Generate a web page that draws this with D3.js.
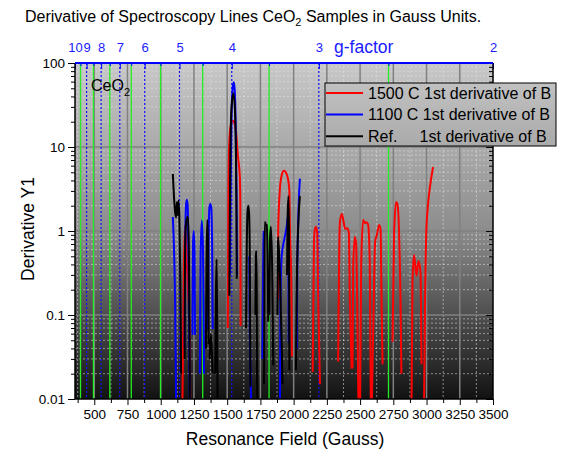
<!DOCTYPE html>
<html><head><meta charset="utf-8">
<script src="https://cdn.jsdelivr.net/npm/d3@7"></script>
<style>
body{margin:0;background:#fff;}
text{font-family:Arial,"Liberation Sans",sans-serif;}
</style></head>
<body><svg id="c" width="570" height="454"></svg>
<script>
// ---------- data ----------
const fieldTicks = [500,750,1000,1250,1500,1750,2000,2250,2500,2750,3000,3250,3500];
const fieldMinor = [375,625,875,1125,1375,1625,1875,2125,2375,2625,2875,3125,3375];
const gTicks = [10,9,8,7,6,5,4,3,2];
const gHalf = [9.5,8.5,7.5,6.5,5.5,4.5,3.5,2.5];
const gLines = [9,8,7,6,5,4,3];
const yTicks = [0.01,0.1,1,10,100];
const yLabels = ["0.01","0.1","1","10","100"];
const legendNames = ["1500 C 1st derivative of B","1100 C 1st derivative of B","Ref."];

// [field (G), |dY/dB|]; null separates segments
const red1500 = [
 [1163,0.008],[1168,0.05],[1176,0.5],[1183,1.16],[1192,0.6],[1205,0.2],[1216,0.08],[1223,0.008],null,
 [1505,0.07],[1507,0.6],[1510,4],[1518,13],[1530,19],[1542,20.6],[1555,19],[1567,15],[1580,8],[1595,4.5],[1599,2],[1600,0.5],[1601,0.074],null,
 [1882,0.155],[1884,1.06],[1897,3.2],[1910,4.6],[1927,5.22],[1947,4.8],[1967,3.2],[1972,1.06],[1983,0.2],[1987,0.032],null,
 [2143,0.021],[2153,0.74],[2160,1.05],[2168,1.12],[2177,0.97],[2185,0.155],[2198,0.015],null,
 [2335,0.028],[2348,1.28],[2363,1.59],[2376,1.28],[2388,1.06],[2403,1.08],[2415,0.97],[2423,0.155],[2436,0.023],null,
 [2443,0.023],[2448,0.39],[2461,0.85],[2470,0.7],[2478,0.155],[2488,0.008],null,
 [2500,0.008],[2508,0.39],[2523,1.35],[2538,1.24],[2548,1.27],[2560,1.2],[2573,0.39],[2581,0.008],null,
 [2588,0.008],[2603,0.155],[2613,0.74],[2628,0.92],[2643,1.18],[2654,1.06],[2661,0.155],[2669,0.026],null,
 [2744,0.048],[2756,0.97],[2771,2.21],[2781,2.1],[2793,0.97],[2804,0.155],[2811,0.02],null,
 [2887,0.008],[2894,0.247],[2906,0.518],[2924,0.294],[2939,0.44],[2954,0.33],[2962,0.026],null,
 [2981,0.008],[2989,0.155],[2999,1.06],[3009,1.9],[3024,3.2],[3049,5.78]
];
const blue1100 = [
 [1091,1.47],[1100,0.6],[1108,0.155],[1116,0.008],null,
 [1180,0.04],[1183,0.4],[1190,2.0],[1196,2.36],[1203,2.0],[1208,0.6],[1216,0.03],[1219,0.008],null,
 [1239,0.058],[1243,0.7],[1248,1.0],[1254,0.6],[1258,0.058],null,
 [1294,0.02],[1300,0.5],[1309,1.33],[1318,0.6],[1326,0.02],null,
 [1356,0.068],[1360,0.6],[1366,1.9],[1373,2.1],[1380,1.9],[1387,0.6],[1391,0.068],null,
 [1521,0.3],[1526,4],[1533,25],[1542,52],[1549,58.9],[1556,50],[1563,22],[1570,3],[1574,0.3],null,
 [1666,0.5],[1670,0.07],[1676,0.02],[1680,0.008],null,
 [1765,0.03],[1768,0.12],[1772,0.6],[1776,1.0],null,
 [1897,0.008],[1901,0.155],[1910,0.5],[1930,0.8],[1950,1.2],[1957,1.5],[1961,0.5],[1963,0.047],null,
 [2024,0.04],[2027,0.3],[2033,1.06],[2040,2.5],[2047,4.2]
];
const refLine = [
 [1091,4.77],[1100,2.5],[1110,1.6],[1116,1.45],[1121,2.2],[1128,1.55],[1133,2.3],[1140,1.5],[1147,0.3],[1153,0.02],null,
 [1180,0.03],[1183,0.6],[1190,1.2],[1200,1.45],[1206,1.47],[1212,0.5],[1220,0.008],null,
 [1340,0.04],[1345,0.5],[1351,1.35],[1356,0.7],[1360,0.045],null,
 [1368,0.03],[1378,0.06],[1390,0.02],null,
 [1410,0.02],[1415,0.15],[1420,0.46],[1424,0.1],[1428,0.008],null,
 [1516,0.17],[1519,1],[1524,8],[1532,28],[1546,43.6],[1558,28],[1566,8],[1570,1.5],[1572,0.27],null,
 [1642,0.07],[1648,0.8],[1653,1.7],[1659,2.0],[1665,1.6],[1670,0.5],[1675,0.014],null,
 [1712,0.1],[1716,0.5],[1719,0.58],[1722,0.2],[1726,0.008],null,
 [1777,0.015],[1781,0.5],[1784,1.28],[1790,1.2],[1797,1.18],[1803,0.6],[1809,0.083],null,
 [1817,0.1],[1822,0.8],[1829,1.12],[1838,0.4],[1847,0.025],null,
 [1878,0.1],[1882,0.7],[1884,0.85],[1900,0.2],[1917,0.015],null,
 [1950,0.3],[1955,1.5],[1961,2.6],[1965,1.0],[1968,0.022],null,
 [2017,0.022],[2025,0.3],[2035,1.2],[2047,2.6]
];

// ---------- layout ----------
const L=75, R=493, T=63, B=399;
const svg = d3.select("#c");
const x = d3.scaleLinear().domain([355,3500]).range([L,R]);
const gx = d3.scaleLinear().domain([1/10,1/2]).range([L,R]);
const y = d3.scaleLog().domain([0.01,100]).range([B,T]);

const defs = svg.append("defs");
const grad = defs.append("linearGradient").attr("id","bg").attr("gradientUnits","userSpaceOnUse")
  .attr("x1",0).attr("x2",0).attr("y1",T).attr("y2",B);
grad.append("stop").attr("offset",0).attr("stop-color","#c8c8c8");
grad.append("stop").attr("offset",0.5).attr("stop-color","#8c8c8c");
grad.append("stop").attr("offset",1).attr("stop-color","#121212");
defs.append("clipPath").attr("id","clip").append("rect").attr("x",L).attr("y",T).attr("width",R-L).attr("height",B-T);

svg.append("rect").attr("x",L).attr("y",T).attr("width",R-L).attr("height",B-T).attr("fill","url(#bg)");

const g = svg.append("g").attr("clip-path","url(#clip)");
const yMinor = [];
[0.01,0.1,1,10].forEach(d=>{for(let k=2;k<=9;k++) yMinor.push(d*k);});
g.selectAll(".hm").data(yMinor).join("line").attr("x1",L).attr("x2",R)
 .attr("y1",d=>y(d)).attr("y2",d=>y(d)).attr("stroke","#e4e4e4").attr("stroke-opacity",0.55).attr("stroke-dasharray","2,2");
g.selectAll(".vm").data(fieldMinor).join("line").attr("y1",T).attr("y2",B)
 .attr("x1",d=>x(d)).attr("x2",d=>x(d)).attr("stroke","#e4e4e4").attr("stroke-opacity",0.55).attr("stroke-dasharray","2,2");
g.selectAll(".hM").data([0.1,1,10]).join("line").attr("x1",L).attr("x2",R)
 .attr("y1",d=>y(d)).attr("y2",d=>y(d)).attr("stroke","#808080").attr("stroke-width",1.5);
g.selectAll(".vM").data(fieldTicks.slice(0,-1)).join("line").attr("y1",T).attr("y2",B)
 .attr("x1",d=>x(d)).attr("x2",d=>x(d)).attr("stroke","#808080").attr("stroke-width",1.5);
g.selectAll(".gh").data(gHalf).join("line").attr("y1",T).attr("y2",B)
 .attr("x1",d=>gx(1/d)).attr("x2",d=>gx(1/d)).attr("stroke","#22ee22").attr("stroke-width",1.3);
g.selectAll(".gi").data(gLines).join("line").attr("y1",T).attr("y2",B)
 .attr("x1",d=>gx(1/d)).attr("x2",d=>gx(1/d)).attr("stroke","#1010ff").attr("stroke-width",1.2).attr("stroke-dasharray","2,2");

const line = d3.line().defined(d=>d!==null).x(d=>x(d[0])).y(d=>y(Math.max(d[1],0.005))).curve(d3.curveMonotoneX);
[[red1500,"#ff0000"],[blue1100,"#0000ff"],[refLine,"#000000"]].forEach(([data,col])=>{
  g.append("path").datum(data).attr("d",line).attr("fill","none").attr("stroke",col).attr("stroke-width",2);
});

// axes
const ax = svg.append("g");
ax.append("g").attr("transform",`translate(${L},0)`)
  .call(d3.axisLeft(y).tickValues(yTicks).tickFormat((d,i)=>yLabels[i]).tickSize(7).tickPadding(3));
ax.append("g").attr("transform",`translate(${L},0)`).call(d3.axisLeft(y).tickValues(yMinor).tickFormat("").tickSize(4));
ax.append("g").attr("transform",`translate(${R},0)`).call(d3.axisLeft(y).tickValues(yTicks).tickFormat("").tickSize(7));
ax.append("g").attr("transform",`translate(${R},0)`).call(d3.axisLeft(y).tickValues(yMinor).tickFormat("").tickSize(4));
ax.append("g").attr("transform",`translate(0,${B})`).call(d3.axisBottom(x).tickValues(fieldTicks).tickSize(6).tickPadding(4).tickFormat(d3.format("d")));
ax.append("g").attr("transform",`translate(0,${B})`).call(d3.axisBottom(x).tickValues(fieldMinor).tickSize(4).tickFormat(""));
ax.selectAll(".domain").remove();
ax.selectAll("text").attr("font-size",13.5).attr("fill","#000").attr("font-family","Arial, 'Liberation Sans', sans-serif");
ax.selectAll(".tick line").attr("stroke","#000");

const topAx = svg.append("g");
topAx.append("g").attr("transform",`translate(0,${T})`)
  .call(d3.axisTop(gx).tickValues(gTicks.map(v=>1/v)).tickSize(-6).tickPadding(11).tickFormat((d,i)=>String(gTicks[i])));
topAx.append("g").attr("transform",`translate(0,${T})`).call(d3.axisTop(gx).tickValues(gHalf.map(v=>1/v)).tickSize(-3).tickFormat(""));
topAx.selectAll(".domain").remove();
topAx.selectAll("text").attr("fill","#1a1aff").attr("font-size",13).attr("font-family","Arial, 'Liberation Sans', sans-serif");
topAx.selectAll(".tick line").attr("stroke","#0000ff");

// frame
svg.append("line").attr("x1",L).attr("x2",L).attr("y1",T).attr("y2",B).attr("stroke","#000").attr("stroke-width",1.5);
svg.append("line").attr("x1",R).attr("x2",R).attr("y1",T).attr("y2",B).attr("stroke","#000").attr("stroke-width",1.5);
svg.append("line").attr("x1",L).attr("x2",R).attr("y1",B).attr("y2",B).attr("stroke","#000").attr("stroke-width",1.5);
svg.append("line").attr("x1",L).attr("x2",R).attr("y1",T).attr("y2",T).attr("stroke","#0000ff").attr("stroke-width",2);

// texts
const title = svg.append("text").attr("x",25).attr("y",22).attr("font-size",16).attr("fill","#000");
title.append("tspan").text("Derivative of Spectroscopy Lines CeO");
title.append("tspan").attr("font-size",11).attr("dy",4).text("2");
title.append("tspan").attr("dy",-4).text(" Samples in Gauss Units.");

svg.append("text").attr("x",334).attr("y",53).attr("font-size",17.5).attr("fill","#1a1aff").text("g-factor");

const ce = svg.append("text").attr("x",91).attr("y",91).attr("font-size",16).attr("fill","#000");
ce.append("tspan").text("CeO");
ce.append("tspan").attr("font-size",11).attr("dy",5).text("2");

svg.append("text").attr("x",285).attr("y",445).attr("text-anchor","middle").attr("font-size",17.5).attr("fill","#000").text("Resonance Field (Gauss)");
svg.append("text").attr("transform","translate(34,229) rotate(-90)").attr("text-anchor","middle").attr("font-size",17.5).attr("fill","#000").text("Derivative Y1");

// legend
const lg = svg.append("g");
lg.append("rect").attr("x",325).attr("y",83).attr("width",231).attr("height",63).attr("fill","url(#bg)").attr("stroke","#000").attr("stroke-width",1);
const cols = ["#ff0000","#0000ff","#000000"];
legendNames.forEach((n,i)=>{
  const cy = 93 + i*21.6;
  lg.append("line").attr("x1",326).attr("x2",363).attr("y1",cy).attr("y2",cy).attr("stroke",cols[i]).attr("stroke-width",2);
  lg.append("text").attr("x",368).attr("y",cy+5.7).attr("font-size",16).attr("fill","#000").text(n);
});
const probe = lg.append("text").attr("font-size",16).attr("visibility","hidden").text("1500 C ");
const w = probe.node().getComputedTextLength(); probe.remove();
lg.append("text").attr("x",368+w).attr("y",93+2*21.6+5.7).attr("font-size",16).attr("fill","#000").text("1st derivative of B");
</script></body></html>
